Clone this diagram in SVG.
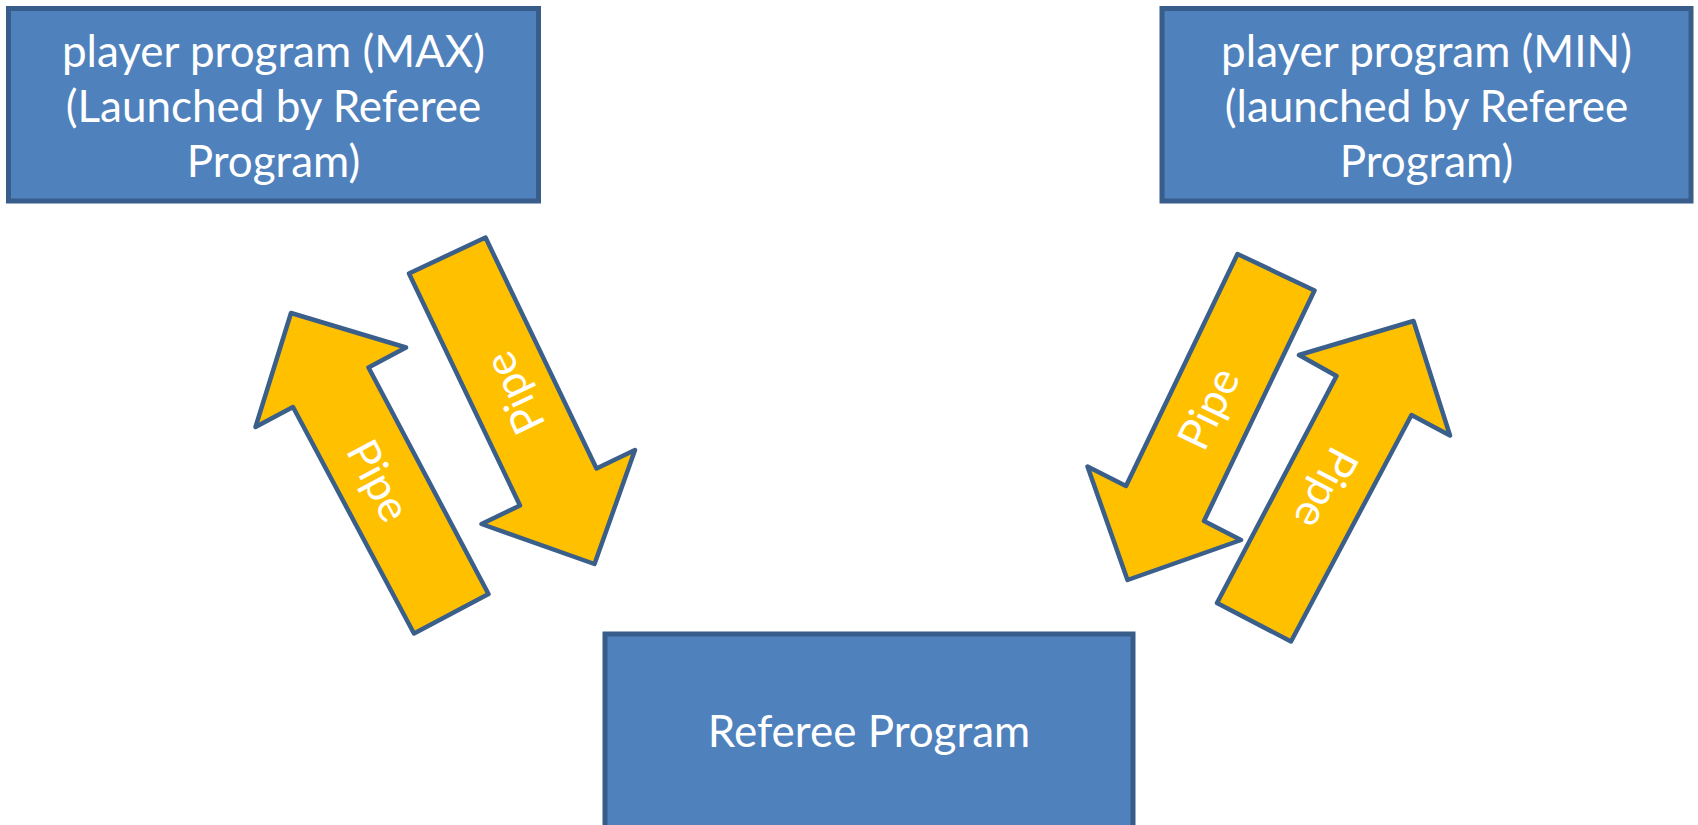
<svg xmlns="http://www.w3.org/2000/svg" width="1698" height="825" viewBox="0 0 1698 825">
<style>
.box{fill:#4F81BD;stroke:#385D8A;stroke-width:5}
.arrow{fill:#FFC000;stroke:#3A5F8B;stroke-width:4.5;stroke-linejoin:round}
.t{font-family:Lato,"Open Sans","Liberation Sans",sans-serif;font-size:44px;fill:#FFFFFF;text-anchor:middle}
</style>
<rect width="1698" height="825" fill="#FFFFFF"/>
<g id="node-max">
<rect class="box" x="8.5" y="8.5" width="530" height="192.5"/>
<text class="t" x="273.5" y="67">player program (MAX)</text>
<text class="t" x="273.5" y="122">(Launched by Referee</text>
<text class="t" x="273.5" y="177">Program)</text>
</g>
<g id="node-min">
<rect class="box" x="1162" y="8.5" width="529" height="192.5"/>
<text class="t" x="1426.5" y="67">player program (MIN)</text>
<text class="t" x="1426.5" y="122">(launched by Referee</text>
<text class="t" x="1426.5" y="177">Program)</text>
</g>
<g id="node-referee">
<rect class="box" x="605" y="634" width="528" height="200"/>
<text class="t" x="869" y="747">Referee Program</text>
</g>
<g id="connectors">
<g id="pipe-referee-to-max">
<polygon class="arrow" points="291,313 406,347.5 368.5,367.5 488.5,594 414,633.5 293,407 255.5,427"/>
<text class="t" transform="translate(375.7,482.3) rotate(62)" x="0" y="12">Pipe</text>
</g>
<g id="pipe-max-to-referee">
<polygon class="arrow" points="409,273.5 485.5,237.5 596.5,468.5 635,450 594.5,564 481.5,524 520,505.5"/>
<text class="t" transform="translate(517.3,391.7) rotate(-115.5)" x="0" y="12">Pipe</text>
</g>
<g id="pipe-min-to-referee">
<polygon class="arrow" points="1237.5,254 1314.5,290.5 1204,521 1241,540 1127.5,580 1087.5,466.5 1126,486"/>
<text class="t" transform="translate(1211.7,410) rotate(-64.2)" x="0" y="12">Pipe</text>
</g>
<g id="pipe-referee-to-min">
<polygon class="arrow" points="1413.5,321 1450,435.5 1411.5,415 1291,641.5 1217,603 1336.5,376 1299,355"/>
<text class="t" transform="translate(1323.3,486.7) rotate(117.9)" x="0" y="12">Pipe</text>
</g>
</g>
</svg>
